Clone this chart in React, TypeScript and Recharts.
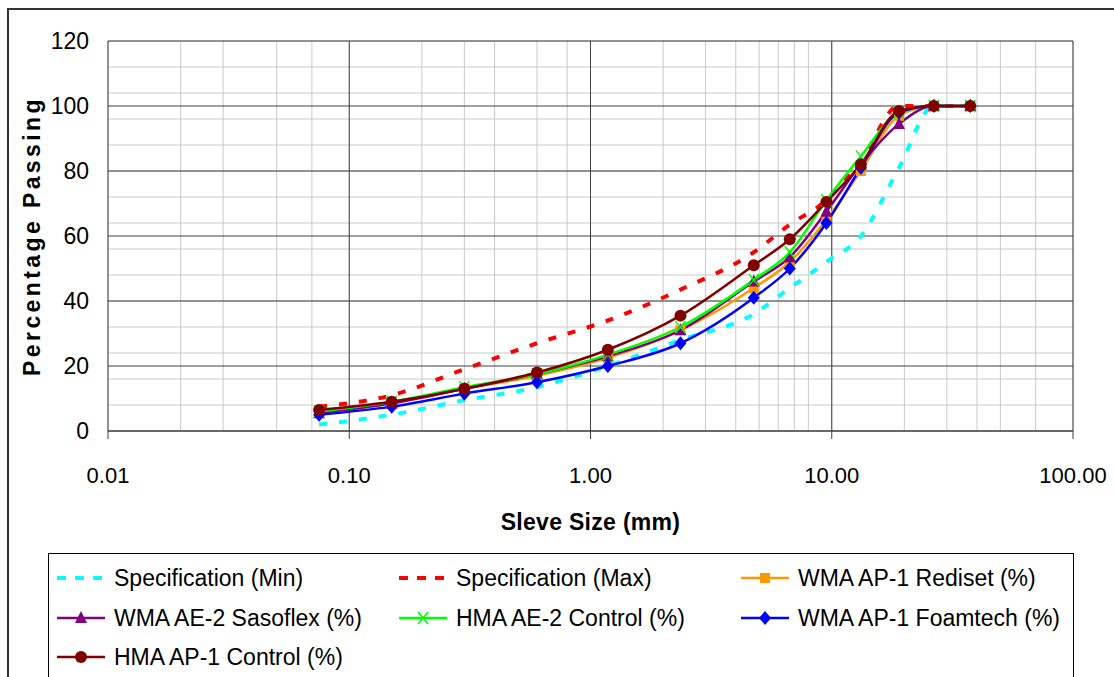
import { CartesianGrid, Label, Line, LineChart, XAxis, YAxis } from 'recharts';

const sieves = [0.075, 0.15, 0.3, 0.6, 1.18, 2.36, 4.75, 6.7, 9.5, 13.2, 19, 26.5, 37.5];
const specMin = [2, 5, 9.5, 13.5, 20, 28, 36, 44, 52, 60, 81, 100, 100];
const specMax = [7.5, 11, 19, 27, 34, 43.5, 55, 63.5, 71, 83, 100, 100, 100];
const rediset = [5.5, 8.5, 13, 17, 22.5, 31, 44, 52, 65, 80, 97, 100, 100];
const sasoflex = [5.5, 8.5, 13, 17.5, 23, 31, 46, 53.5, 67.5, 82, 94.5, 100, 100];
const hmaAe2 = [6, 9, 13.5, 17.5, 23.5, 32, 46.5, 55, 71, 84.5, 98, 100, 100];
const foamtech = [5, 7.5, 11.5, 15, 20, 27, 41, 50, 64, 81, 98, 100, 100];
const hmaAp1 = [6.5, 9, 13, 18, 25, 35.5, 51, 59, 70.5, 82, 98.5, 100, 100];

const xTicks = [0.01, 0.1, 1, 10, 100];
const yTicks = [0, 20, 40, 60, 80, 100, 120];
const decades = [0.01, 0.1, 1, 10];
const minorSteps = [1, 2, 3, 4, 5, 6, 7, 8, 9];
const xMinor = [...decades.flatMap((d) => minorSteps.map((s) => +(d * s).toPrecision(3))), 100];
const yMinor = [0, 4, 8, 12, 16, 20, 24, 28, 32, 36, 40, 44, 48, 52, 56, 60, 64, 68, 72, 76, 80, 84, 88, 92, 96, 100, 104, 108, 112, 116, 120];

const data = sieves.map((size, i) => ({
  size,
  specMin: specMin[i],
  specMax: specMax[i],
  rediset: rediset[i],
  sasoflex: sasoflex[i],
  hmaAe2: hmaAe2[i],
  foamtech: foamtech[i],
  hmaAp1: hmaAp1[i],
}));

type Kind = 'none' | 'square' | 'triangle' | 'cross' | 'diamond' | 'circle';

const series: { key: string; name: string; color: string; kind: Kind; dashed?: boolean }[] = [
  { key: 'specMin', name: 'Specification (Min)', color: '#00FFFF', kind: 'none', dashed: true },
  { key: 'specMax', name: 'Specification (Max)', color: '#FF0000', kind: 'none', dashed: true },
  { key: 'rediset', name: 'WMA AP-1 Rediset (%)', color: '#FF9900', kind: 'square' },
  { key: 'sasoflex', name: 'WMA AE-2 Sasoflex (%)', color: '#800080', kind: 'triangle' },
  { key: 'hmaAe2', name: 'HMA AE-2 Control (%)', color: '#00FF00', kind: 'cross' },
  { key: 'foamtech', name: 'WMA AP-1 Foamtech (%)', color: '#0000FF', kind: 'diamond' },
  { key: 'hmaAp1', name: 'HMA AP-1 Control (%)', color: '#800000', kind: 'circle' },
];

function Marker({ kind, color, cx, cy }: { kind: Kind; color: string; cx: number; cy: number }) {
  if (kind === 'square') return <rect x={cx - 5} y={cy - 5} width={10} height={10} fill={color} />;
  if (kind === 'triangle')
    return <polygon points={`${cx},${cy - 7} ${cx + 6},${cy + 5} ${cx - 6},${cy + 5}`} fill={color} />;
  if (kind === 'diamond')
    return <polygon points={`${cx},${cy - 7} ${cx + 6},${cy} ${cx},${cy + 7} ${cx - 6},${cy}`} fill={color} />;
  if (kind === 'circle') return <circle cx={cx} cy={cy} r={6} fill={color} />;
  if (kind === 'cross')
    return (
      <g stroke={color} strokeWidth={1.5}>
        <line x1={cx - 5} y1={cy - 6} x2={cx + 5} y2={cy + 6} />
        <line x1={cx + 5} y1={cy - 6} x2={cx - 5} y2={cy + 6} />
      </g>
    );
  return null;
}

const font = '"Liberation Sans", Arial, sans-serif';

function ChartLegend() {
  const textX = [65, 407, 749];
  const rowY = [24, 64, 103];
  return (
    <div
      style={{
        position: 'absolute',
        left: 48,
        top: 553,
        width: 1024,
        height: 140,
        border: '1px solid #000',
        background: '#fff',
        fontFamily: font,
        fontSize: 23,
      }}
    >
      {series.map((s, i) => {
        const col = i % 3;
        const row = Math.floor(i / 3);
        return (
          <div key={s.key}>
            <svg
              width={48}
              height={20}
              style={{ position: 'absolute', left: textX[col] - 57, top: rowY[row] - 10 }}
            >
              <line
                x1={0}
                y1={10}
                x2={48}
                y2={10}
                stroke={s.color}
                strokeWidth={s.dashed ? 4 : 2.5}
                strokeDasharray={s.dashed ? '9 9' : undefined}
              />
              <Marker kind={s.kind} color={s.color} cx={24} cy={10} />
            </svg>
            <span
              style={{
                position: 'absolute',
                left: textX[col],
                top: rowY[row] - 14,
                lineHeight: '28px',
                whiteSpace: 'nowrap',
              }}
            >
              {s.name}
            </span>
          </div>
        );
      })}
    </div>
  );
}

export default function App() {
  return (
    <div style={{ position: 'absolute', left: 0, top: 0, width: 1114, height: 677, background: '#fff', overflow: 'hidden' }}>
      <div
        style={{
          position: 'absolute',
          left: 7,
          top: 8,
          width: 1200,
          height: 800,
          borderLeft: '2px solid #333',
          borderTop: '2px solid #333',
        }}
      />
      <div style={{ position: 'absolute', left: 0, top: 0 }}>
        <LineChart
          width={1114}
          height={545}
          data={data}
          margin={{ top: 41, right: 41, left: 48, bottom: 0 }}
          style={{ fontFamily: font }}
        >
          <XAxis xAxisId="minor" type="number" dataKey="size" scale="log" domain={[0.01, 100]} ticks={xMinor} hide allowDataOverflow />
          <YAxis yAxisId="minor" type="number" domain={[0, 120]} ticks={yMinor} hide allowDataOverflow />
          <CartesianGrid xAxisId="minor" yAxisId="minor" stroke="#c8c8c8" strokeWidth={1} />
          <CartesianGrid stroke="#404040" strokeWidth={1} />
          <XAxis
            type="number"
            dataKey="size"
            scale="log"
            domain={[0.01, 100]}
            ticks={xTicks}
            allowDataOverflow
            height={114}
            tickSize={8}
            tickMargin={28}
            tickLine={{ stroke: '#404040' }}
            axisLine={{ stroke: '#404040' }}
            tickFormatter={(v: number) => v.toFixed(2)}
            tick={{ fontSize: 22, fill: '#000' }}
          >
            <Label
              content={({ viewBox }: any) => (
                <text
                  x={viewBox.x + viewBox.width / 2}
                  y={viewBox.y + 99}
                  textAnchor="middle"
                  fontSize={23}
                  fontWeight="bold"
                  letterSpacing={0.3}
                  fill="#000"
                >
                  Sleve Size (mm)
                </text>
              )}
            />
          </XAxis>
          <YAxis
            type="number"
            domain={[0, 120]}
            ticks={yTicks}
            width={60}
            axisLine={false}
            tickLine={false}
            tickSize={0}
            tickMargin={19}
            tick={{ fontSize: 23, fill: '#000' }}
          >
            <Label
              content={({ viewBox }: any) => {
                const cx = viewBox.x - 16;
                const cy = viewBox.y + viewBox.height / 2;
                return (
                  <text
                    x={cx}
                    y={cy}
                    transform={`rotate(-90 ${cx} ${cy})`}
                    textAnchor="middle"
                    dominantBaseline="central"
                    fontSize={23}
                    fontWeight="bold"
                    letterSpacing={3.4}
                    fill="#000"
                  >
                    Percentage Passing
                  </text>
                );
              }}
            />
          </YAxis>
          {series.map((s) => (
            <Line
              key={s.key}
              dataKey={s.key}
              name={s.name}
              type="monotone"
              stroke={s.color}
              strokeWidth={s.dashed ? 4 : 2.5}
              strokeDasharray={s.dashed ? '8 12' : undefined}
              isAnimationActive={false}
              activeDot={false}
              dot={
                s.kind === 'none'
                  ? false
                  : (p: any) => <Marker key={`${s.key}-${p.index}`} kind={s.kind} color={s.color} cx={p.cx} cy={p.cy} />
              }
            />
          ))}
        </LineChart>
      </div>
      <ChartLegend />
    </div>
  );
}
